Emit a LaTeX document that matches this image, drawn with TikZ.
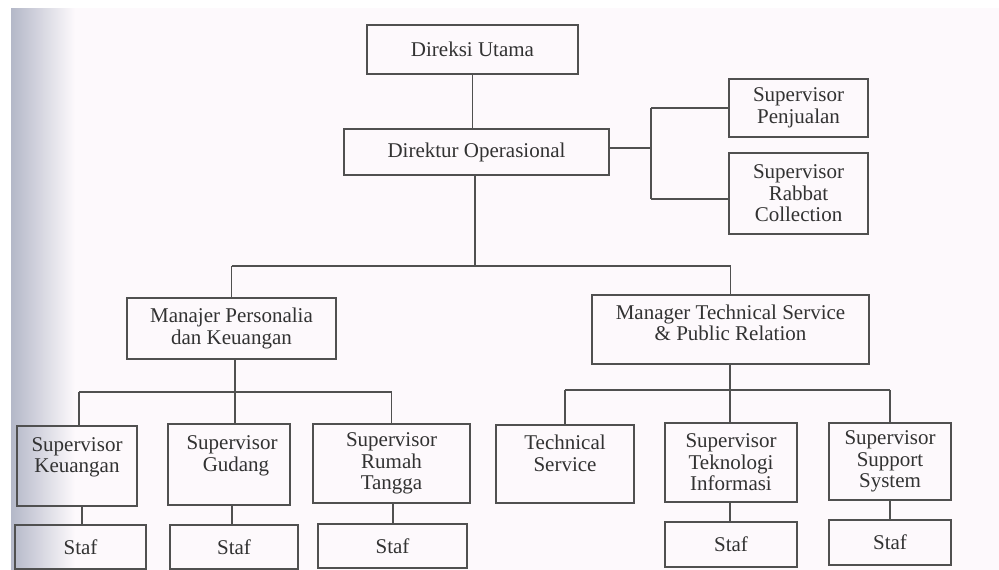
\documentclass[tikz,border=0pt]{standalone}
\usepackage{fontspec}
\setmainfont{Liberation Serif}
\usetikzlibrary{calc}
\definecolor{bgc}{RGB}{253,249,252}
\definecolor{shadec}{RGB}{180,184,200}
\definecolor{linec}{RGB}{80,80,80}
\definecolor{textc}{RGB}{50,50,50}
\begin{document}
\begin{tikzpicture}[x=1pt,y=-1pt,
  box/.style={draw=linec,line width=1.5pt,align=center,inner sep=0pt,text=textc,
    font=\fontsize{21}{21.5}\selectfont},
  conn/.style={draw=linec,line width=1.5pt}]
\useasboundingbox (0,0) rectangle (999,570);
\fill[white] (0,0) rectangle (999,570);
\fill[bgc] (11,8) rectangle (999,570);
\shade[left color=shadec,right color=bgc] (11,8) rectangle (75,570);

% level 0-1
\node[box,minimum width=211pt,minimum height=49pt] (du) at (472.5,49.5) {Direksi Utama};
\node[box,minimum width=265pt,minimum height=46pt] (do) at (476.5,152) {Direktur Operasional};
\node[box,minimum width=139pt,minimum height=58pt] (sp) at (798.5,108) {Supervisor\\Penjualan};
\node[box,minimum width=139pt,minimum height=81pt] (sr) at (798.5,193.5) {Supervisor\\Rabbat\\Collection};

% managers
\node[box,minimum width=209pt,minimum height=61pt] (mp) at (231.5,328.5) {Manajer Personalia\\dan Keuangan};
\node[box,minimum width=277pt,minimum height=69pt] (mt) at (730.5,329.5) {Manager Technical Service\\\& Public Relation\\[-8pt]\mbox{}};

% supervisors
\node[box,minimum width=120pt,minimum height=80pt] (sk) at (77,466) {Supervisor\\Keuangan\\\mbox{}};
\node[box,minimum width=122pt,minimum height=81pt] (sg) at (229,464.5) {\hspace*{6pt}Supervisor\\\hspace*{14pt}Gudang\\\mbox{}};
\node[box,minimum width=157pt,minimum height=79pt] (srt) at (391.5,463.5) {Supervisor\\Rumah\\Tangga};
\node[box,minimum width=138pt,minimum height=78pt] (ts) at (565,464) {Technical\\Service\\\mbox{}};
\node[box,minimum width=132pt,minimum height=79pt] (sti) at (731,462.5) {Supervisor\\Teknologi\\Informasi};
\node[box,minimum width=122pt,minimum height=77pt] (sss) at (890,461.5) {Supervisor\\Support\\System};

% staf
\node[box,minimum width=131pt,minimum height=44pt] (fk) at (80.5,547) {Staf};
\node[box,minimum width=128pt,minimum height=44pt] (fg) at (234,547) {Staf};
\node[box,minimum width=149pt,minimum height=44pt] (frt) at (392.5,546) {Staf};
\node[box,minimum width=132pt,minimum height=45pt] (fti) at (731,544.5) {Staf};
\node[box,minimum width=122pt,minimum height=45pt] (fss) at (890,542.5) {Staf};

% bus coordinates
\coordinate (b1) at (475,266);
\coordinate (b2) at (651,148);
\coordinate (b3) at (235,392);
\coordinate (b4) at (730,390);

% connectors
\draw[conn] (du.south) -- (du.south |- do.north);
\draw[conn] (b1 |- do.south) -- (b1);
\draw[conn] (mp.north |- b1) -- (mt.north |- b1);
\draw[conn] (mp.north |- b1) -- (mp.north);
\draw[conn] (mt.north |- b1) -- (mt.north);

\draw[conn] (do.east |- b2) -- (b2);
\draw[conn] (b2 |- 0,108) -- (b2 |- 0,199);
\draw[conn] (b2 |- 0,108) -- (sp.west |- 0,108);
\draw[conn] (b2 |- 0,199) -- (sr.west |- 0,199);

\draw[conn] (b3 |- mp.south) -- (b3);
\draw[conn] (79,392) -- (srt.north |- b3);
\draw[conn] (79,392) -- (79,426);
\draw[conn] (b3) -- (b3 |- sg.north);
\draw[conn] (srt.north |- b3) -- (srt.north);

\draw[conn] (b4 |- mt.south) -- (b4);
\draw[conn] (ts.north |- b4) -- (sss.north |- b4);
\draw[conn] (ts.north |- b4) -- (ts.north);
\draw[conn] (b4) -- (b4 |- sti.north);
\draw[conn] (sss.north |- b4) -- (sss.north);

\draw[conn] (82,506) -- (82,525);
\draw[conn] (232,505) -- (232,525);
\draw[conn] (393,503) -- (393,524);
\draw[conn] (sti.south -| 730,0) -- (730,522);
\draw[conn] (sss.south) -- (fss.north);
\end{tikzpicture}
\end{document}
